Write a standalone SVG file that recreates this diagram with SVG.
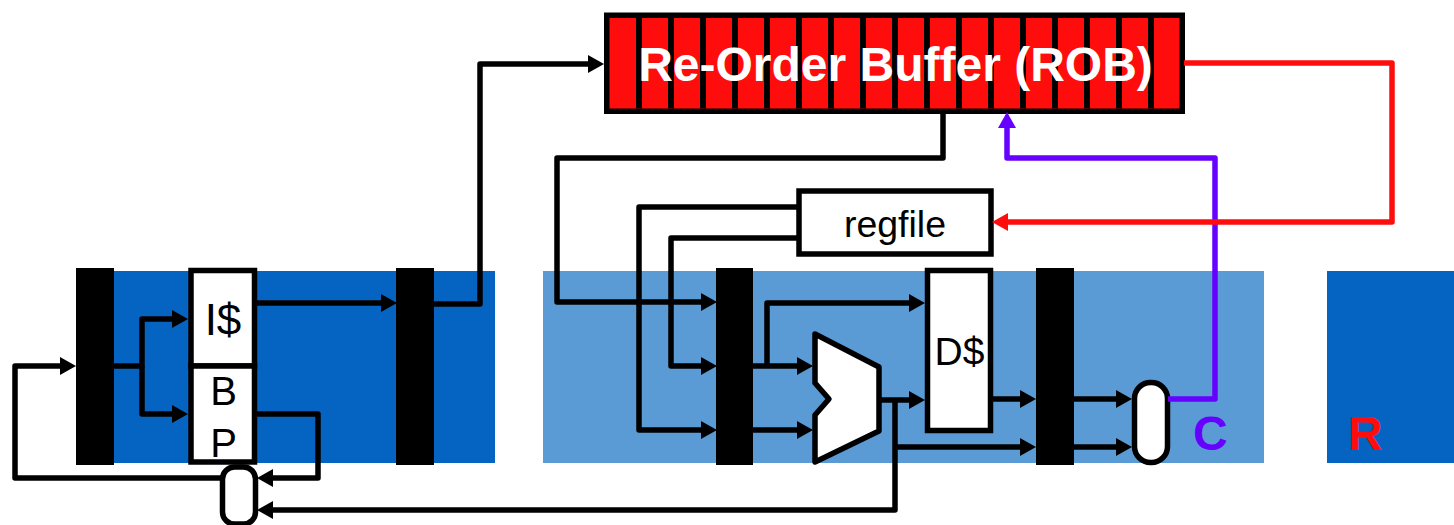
<svg xmlns="http://www.w3.org/2000/svg" width="1454" height="525" viewBox="0 0 1454 525">
<style>
text{font-family:"Liberation Sans",Arial,sans-serif;fill:#000;font-size:37.5px}
.b{font-weight:700;font-size:48px}
.box{fill:#fff;stroke:#000;stroke-width:5.5}
.latch{fill:#000}
.dark{fill:#0563c1}
.light{fill:#5b9bd5}
.cell{fill:#ff0d0d}
.div{stroke:#000;stroke-width:6}
.k,.p,.r{fill:none;stroke-width:5.5;stroke-linejoin:round}
.k{stroke:#000}.p{stroke:#6600ff}.r{stroke:#ff0d0d}
</style>
<defs>
<marker id="ak" markerUnits="userSpaceOnUse" markerWidth="19" markerHeight="19" refX="6" refY="9" orient="auto"><path d="M0,0L16,9L0,18Z" fill="#000"/></marker>
<marker id="ap" markerUnits="userSpaceOnUse" markerWidth="19" markerHeight="19" refX="6" refY="9" orient="auto"><path d="M0,0L16,9L0,18Z" fill="#6600ff"/></marker>
<marker id="ar" markerUnits="userSpaceOnUse" markerWidth="19" markerHeight="19" refX="6" refY="9" orient="auto"><path d="M0,0L16,9L0,18Z" fill="#ff0d0d"/></marker>
</defs>
<g id="stages">
<rect class="dark" x="114" y="271" width="381" height="192"/>
<rect class="light" x="543" y="271" width="721" height="192"/>
<rect class="dark" x="1327" y="271" width="127" height="192"/>
</g>
<g id="connectors">
<path class="k" marker-end="url(#ak)" d="M434,304H480V64H594"/>
<path class="k" marker-end="url(#ak)" d="M257,303H387"/>
<path class="k" marker-end="url(#ak)" d="M114,366H142V319H178"/>
<path class="k" marker-end="url(#ak)" d="M142,366V414H178"/>
<path class="k" marker-end="url(#ak)" d="M257,414H318V478H267"/>
<path class="k" marker-end="url(#ak)" d="M222,478H15V366H66"/>
<path class="k" marker-end="url(#ak)" d="M895,401V510H267"/>
<path class="k" marker-end="url(#ak)" d="M943,114V158H557V302H707"/>
<path class="k" marker-end="url(#ak)" d="M797,207H639V430H707"/>
<path class="k" marker-end="url(#ak)" d="M797,238H671V366H707"/>
<path class="k" marker-end="url(#ak)" d="M753,366H803"/>
<path class="k" marker-end="url(#ak)" d="M753,430H803"/>
<path class="k" marker-end="url(#ak)" d="M767,366V303H915"/>
<path class="k" marker-end="url(#ak)" d="M881,400H915"/>
<path class="k" marker-end="url(#ak)" d="M895,447H1026"/>
<path class="k" marker-end="url(#ak)" d="M992,399H1026"/>
<path class="k" marker-end="url(#ak)" d="M1074,399H1122"/>
<path class="k" marker-end="url(#ak)" d="M1074,447H1122"/>
</g>
<g id="latch1"><rect class="latch" x="76" y="268" width="38" height="197"/></g>
<g id="latch2"><rect class="latch" x="396" y="268" width="38" height="197"/></g>
<g id="latch3"><rect class="latch" x="716" y="268" width="37" height="197"/></g>
<g id="latch4"><rect class="latch" x="1036" y="268" width="38" height="197"/></g>
<g id="icache"><rect class="box" x="191" y="270.500" width="63.500" height="95.500"/><text x="223" y="335" text-anchor="middle" style="font-size:44px">I$</text></g>
<g id="bp"><rect class="box" x="191" y="366" width="63.500" height="96"/><text x="223.500" y="404.500" text-anchor="middle" style="font-size:40px">B</text><text x="223.500" y="456.500" text-anchor="middle" style="font-size:40px">P</text></g>
<g id="mux-bottom"><rect class="box" x="222.500" y="467" width="33" height="57" rx="12"/></g>
<g id="alu"><path class="box" stroke-linejoin="round" d="M815,334L879,367V431L815,462V415L829,399L815,383Z"/></g>
<g id="dcache"><rect class="box" x="927.500" y="270.500" width="63" height="160"/><text x="959.500" y="365" text-anchor="middle" style="font-size:39px">D$</text></g>
<g id="regfile"><rect class="box" x="799" y="191" width="192" height="63"/><text x="895" y="237" text-anchor="middle">regfile</text></g>
<g id="mux-commit"><rect class="box" x="1134.500" y="382.500" width="33" height="80" rx="16"/></g>
<g id="rob">
<rect x="604" y="12.500" width="581" height="101.500" fill="#000"/>
<rect class="cell" x="609.500" y="18" width="570" height="90.500"/>
<path class="div" d="M639,18V108.500M671,18V108.500M703,18V108.500M735,18V108.500M767,18V108.500M799,18V108.500M831,18V108.500M863,18V108.500M895,18V108.500M927,18V108.500M959,18V108.500M991,18V108.500M1023,18V108.500M1055,18V108.500M1087,18V108.500M1119,18V108.500M1151,18V108.500"/>
<text class="b" x="895.500" y="81" text-anchor="middle" style="fill:#fff">Re-Order Buffer (ROB)</text>
</g>
<g id="connectors-colored">
<path class="p" marker-end="url(#ap)" d="M1168,399H1215V158H1007V122"/>
<path class="r" marker-end="url(#ar)" d="M1184,63H1392V222H1002"/>
</g>
<g id="labels">
<text class="b" x="1193" y="450" style="fill:#6600ff">C</text>
<text class="b" x="1348" y="450" style="fill:#ff0d0d">R</text>
</g>
</svg>
